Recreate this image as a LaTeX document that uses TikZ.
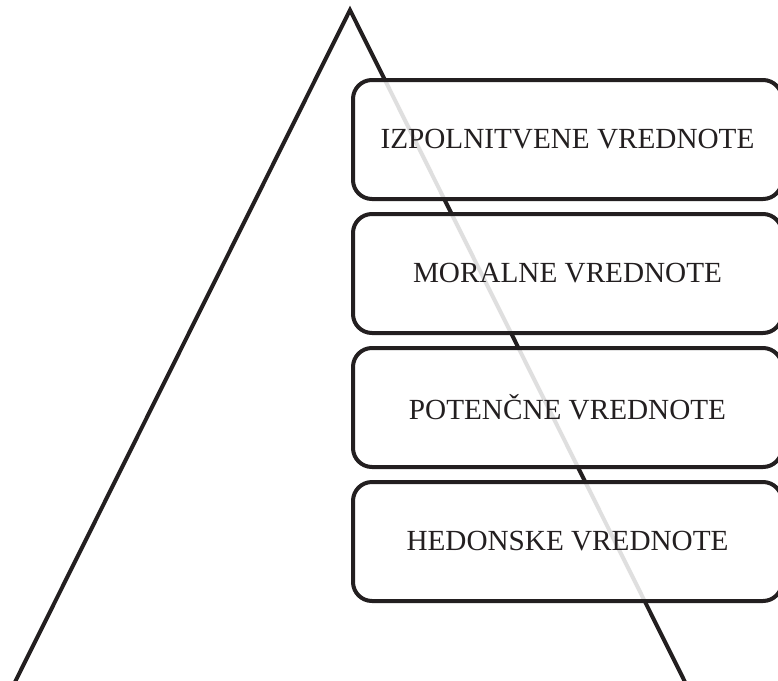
\documentclass[tikz,border=0pt]{standalone}
\usepackage{fontspec}
\setmainfont{Liberation Serif}
\definecolor{ink}{HTML}{231F20}
\begin{document}
\begin{tikzpicture}[x=1pt,y=-1pt,
  valuebox/.style={draw=ink, line width=4pt, rounded corners=19pt, fill=white, fill opacity=0.86, text opacity=1,
    minimum width=429pt, minimum height=119pt, inner sep=0pt, anchor=north west,
    font=\fontsize{29.2}{34}\selectfont, text=ink},
  triline/.style={draw=ink, line width=4pt, line join=miter}]
\useasboundingbox (0,0) rectangle (778,680);
\coordinate (apex) at (350,10);
\coordinate (bl) at (14,684);
\coordinate (br) at (686,684);
\draw[triline] (bl) -- (apex) -- (br) -- cycle;
\node[valuebox] (b1) at (351,78) {IZPOLNITVENE VREDNOTE};
\node[valuebox] (b2) at (351,212) {MORALNE VREDNOTE};
\node[valuebox] (b3) at (351,346) {POTENČNE VREDNOTE};
\node[valuebox] (b4) at (351,480) {HEDONSKE VREDNOTE};
\end{tikzpicture}
\end{document}
